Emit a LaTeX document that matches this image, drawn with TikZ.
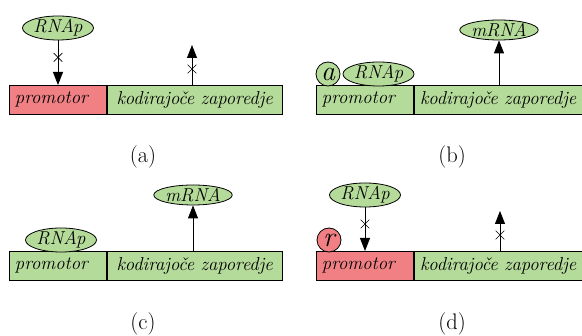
\documentclass[tikz,border=0pt]{standalone}
\usepackage{fontspec}
\usetikzlibrary{arrows.meta,shapes.geometric,shapes.misc}
\definecolor{promred}{RGB}{240,128,132}
\definecolor{genegreen}{RGB}{181,219,154}
\begin{document}
\begin{tikzpicture}[x=1pt,y=-1pt,
  seg/.style={draw, line width=0.8pt, anchor=north west, minimum height=29pt,
    inner ysep=0pt, font=\fontsize{18.7}{22}\selectfont\itshape},
  promseg/.style={seg, text width=86pt, inner xsep=5.5pt, align=left},
  codeseg/.style={seg, inner xsep=0pt, align=center},
  blob/.style={ellipse, draw, line width=0.8pt, fill=genegreen, inner sep=0pt,
    font=\fontsize{18.7}{22}\selectfont\itshape},
  rnap/.style={blob, minimum width=71pt, minimum height=24pt},
  mrna/.style={blob, minimum width=72pt, minimum height=20pt},
  factor/.style={circle, draw, line width=0.8pt, inner sep=0pt, minimum size=24pt,
    font=\fontsize{28}{28}\selectfont\itshape},
  flow/.style={-{Triangle[width=10pt,length=13pt]}, line width=0.8pt},
  xmark/.style={cross out, draw, line width=0.6pt, minimum size=8pt, inner sep=0pt},
  caption/.style={font=\fontsize{22.5}{26}\selectfont}]
\useasboundingbox (0,0) rectangle (582,336);

% (a) repressed gene without activator: no binding, no transcript
\node[promseg, fill=promred] (promA) at (9,85) {promotor};
\node[codeseg, fill=genegreen, text width=175pt] (codA) at (promA.north east) {kodirajoče zaporedje};
\node[rnap] (rnapA) at (58,28) {RNAp};
\coordinate (tipA) at (192,45);
\draw[flow] (rnapA.south) -- node[xmark, pos=0.38] (xa1) {} (rnapA.south |- promA.north);
\draw[flow] (tipA |- codA.north) -- node[xmark, pos=0.4] (xa2) {} (tipA);
\node[caption] (capA) at (143,157) {(a)};

% (b) activator bound: RNAp on promoter, mRNA produced
\node[promseg, fill=genegreen] (promB) at (316,85) {promotor};
\node[codeseg, fill=genegreen, text width=168pt] (codB) at (promB.north east) {kodirajoče zaporedje};
\node[factor, fill=genegreen] (actB) at (328,74) {a};
\node[rnap] (rnapB) at (378.5,74) {RNAp};
\node[mrna] (mrnaB) at (499,30) {mRNA};
\draw[flow] (mrnaB.south |- codB.north) -- (mrnaB.south);
\node[caption] (capB) at (452,157) {(b)};

% (c) constitutive expression
\node[promseg, fill=genegreen] (promC) at (9,251) {promotor};
\node[codeseg, fill=genegreen, text width=175pt] (codC) at (promC.north east) {kodirajoče zaporedje};
\node[rnap] (rnapC) at (61,240) {RNAp};
\node[mrna] (mrnaC) at (193,195) {mRNA};
\draw[flow] (mrnaC.south |- codC.north) -- (mrnaC.south);
\node[caption] (capC) at (143,324) {(c)};

% (d) repressor bound: RNAp blocked
\node[promseg, fill=promred] (promD) at (316,251) {promotor};
\node[codeseg, fill=genegreen, text width=168pt] (codD) at (promD.north east) {kodirajoče zaporedje};
\node[factor, fill=promred] (repD) at (329,240) {r};
\node[rnap] (rnapD) at (365,195) {RNAp};
\coordinate (tipD) at (500,211);
\draw[flow] (rnapD.south) -- node[xmark, pos=0.38] (xd1) {} (rnapD.south |- promD.north);
\draw[flow] (tipD |- codD.north) -- node[xmark, pos=0.4] (xd2) {} (tipD);
\node[caption] (capD) at (452,324) {(d)};
\end{tikzpicture}
\end{document}
